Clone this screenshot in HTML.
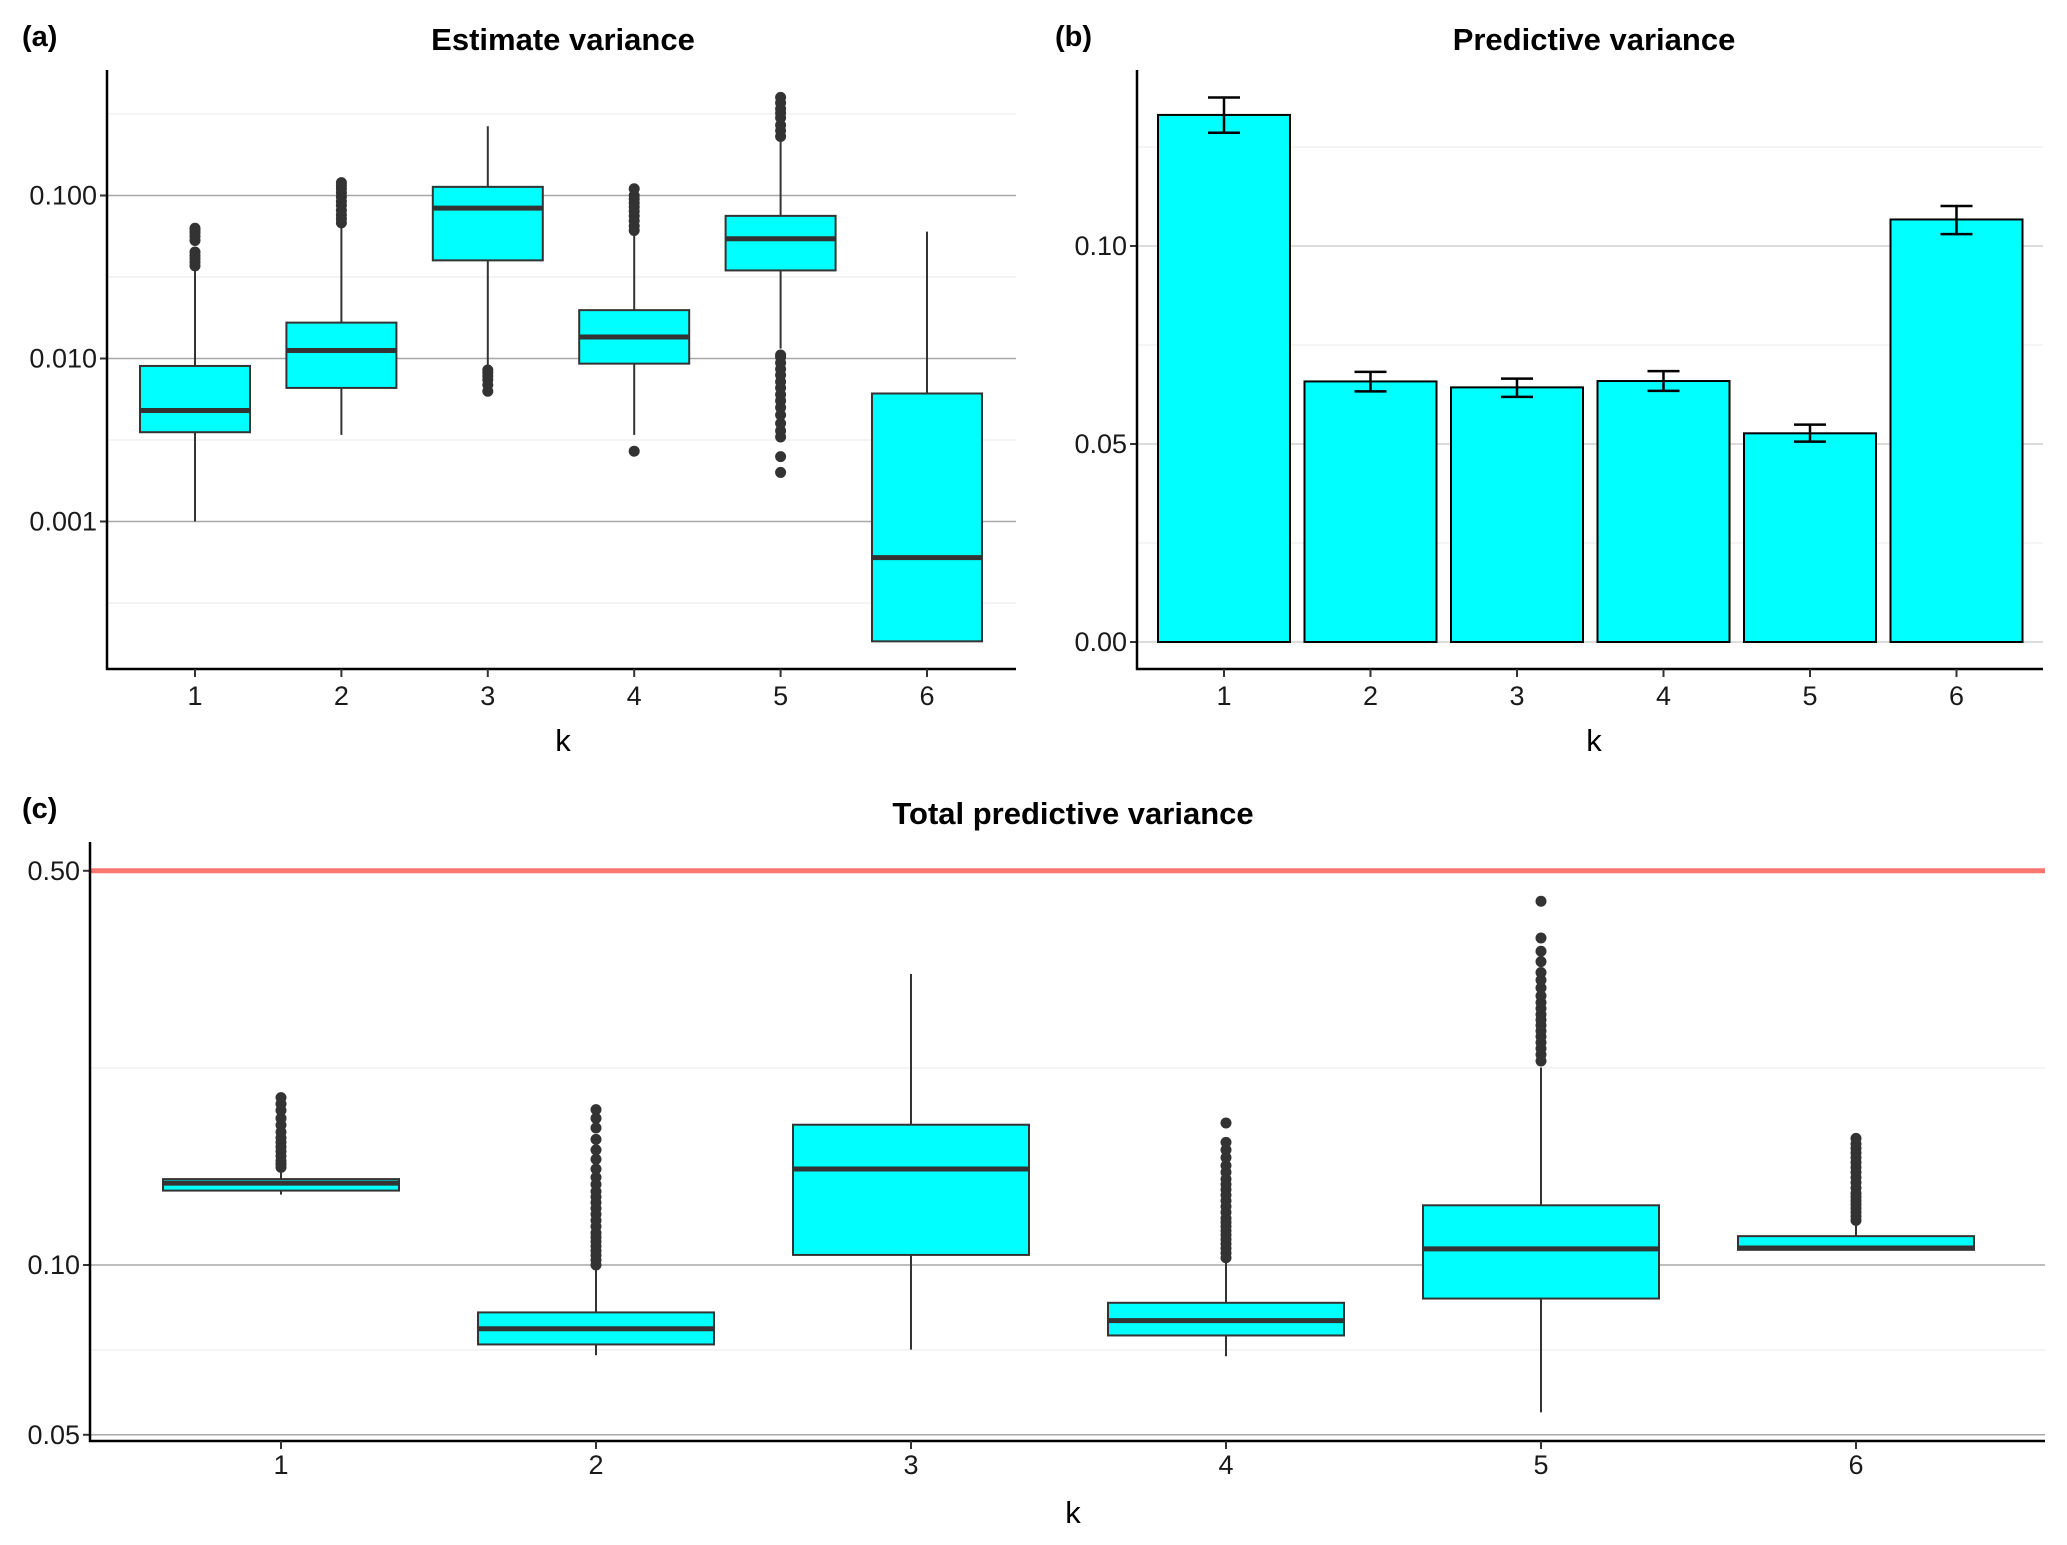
<!DOCTYPE html>
<html><head><meta charset="utf-8"><style>
html,body{margin:0;padding:0;background:#fff;}
svg{display:block;font-family:"Liberation Sans Narrow","Liberation Sans",Arial,sans-serif;}
</style></head><body>
<svg id="chart" width="2067" height="1545" viewBox="0 0 2067 1545" xmlns="http://www.w3.org/2000/svg"></svg>
<script>
// ---------- data ----------
const categories = ["1","2","3","4","5","6"];
// Panel (a) Estimate variance boxplots
const aLow    = [0.001, 0.0034, 0.0087, 0.0034, 0.0115, 0.000184];
const aQ1     = [0.00353, 0.0066, 0.040, 0.0093, 0.0347, 0.000184];
const aMedian = [0.0048, 0.0112, 0.0836, 0.01355, 0.0543, 0.0006];
const aQ3     = [0.009, 0.0166, 0.113, 0.0198, 0.075, 0.0061];
const aHigh   = [0.035, 0.066, 0.266, 0.0575, 0.22, 0.06];
const aOutliers = [
  [0.037,0.039,0.041,0.043,0.045,0.053,0.056,0.059,0.061,0.063],
  [0.068,0.072,0.076,0.081,0.087,0.092,0.098,0.104,0.11,0.115,0.12],
  [0.0063,0.0069,0.0074,0.0078,0.0082,0.0085],
  [0.0027,0.061,0.065,0.07,0.075,0.08,0.085,0.09,0.095,0.1,0.11],
  [0.002,0.0025,0.0033,0.0036,0.004,0.0045,0.005,0.0055,0.006,0.0066,0.0072,0.0079,0.0086,0.0094,0.0102,0.0105,0.23,0.25,0.27,0.3,0.32,0.34,0.37,0.4],
  []
];
const aTicks = [0.1, 0.01, 0.001];
const aTickLabels = ["0.100","0.010","0.001"];
const aMinor = [0.316, 0.0316, 0.00316, 0.000316];
// Panel (b) Predictive variance bars
const bValues = [0.1331, 0.0658, 0.0643, 0.0659, 0.0527, 0.1067];
const bErrLow = [0.1286, 0.0633, 0.0619, 0.0634, 0.0506, 0.103];
const bErrHigh = [0.1375, 0.0682, 0.0665, 0.0684, 0.0549, 0.1101];
const bTicks = [0, 0.05, 0.1];
const bTickLabels = ["0.00","0.05","0.10"];
const bMinor = [0.025, 0.075, 0.125];
// Panel (c) Total predictive variance boxplots
const cLow    = [0.1333, 0.0692, 0.0708, 0.0689, 0.0548, 0.1064];
const cQ1     = [0.1355, 0.0723, 0.1042, 0.075, 0.0872, 0.1064];
const cMedian = [0.1397, 0.0771, 0.148, 0.0797, 0.1068, 0.1072];
const cQ3     = [0.142, 0.0824, 0.1773, 0.0857, 0.1276, 0.1125];
const cHigh   = [0.1476, 0.098, 0.328, 0.102, 0.224, 0.119];
const cOutliers = [
  [0.149,0.151,0.153,0.156,0.159,0.162,0.165,0.168,0.172,0.177,0.182,0.188,0.193,0.198],
  [0.1,0.102,0.104,0.106,0.108,0.11,0.112,0.114,0.117,0.12,0.123,0.126,0.129,0.132,0.135,0.139,0.143,0.148,0.154,0.16,0.167,0.175,0.182,0.1886],
  [],
  [0.103,0.105,0.107,0.109,0.111,0.113,0.115,0.117,0.119,0.121,0.124,0.127,0.13,0.133,0.136,0.139,0.142,0.146,0.15,0.155,0.16,0.165,0.1786],
  [0.23,0.236,0.242,0.248,0.254,0.26,0.266,0.272,0.278,0.285,0.292,0.3,0.31,0.32,0.33,0.345,0.36,0.38,0.4416],
  [0.12,0.122,0.124,0.126,0.128,0.13,0.132,0.134,0.137,0.14,0.143,0.146,0.149,0.152,0.155,0.158,0.161,0.164,0.1677]
];
const cTicks = [0.5, 0.1, 0.05];
const cTickLabels = ["0.50","0.10","0.05"];
const cMinor = [0.2236, 0.0707];
const cRefLine = [0.5];

// ---------- helpers ----------
const svg = document.getElementById('chart');
const NS = 'http://www.w3.org/2000/svg';
function mk(tag, attrs, parent, txt){
  const e = document.createElementNS(NS, tag);
  for (const k in attrs) e.setAttribute(k, attrs[k]);
  if (txt !== undefined) e.textContent = txt;
  (parent || svg).appendChild(e);
  return e;
}
function logScale(v0, y0, pxPerDecade){ return v => y0 - pxPerDecade * Math.log10(v / v0); }

function panelFrame(g, L, R, T, B, xPos, xlabY){
  const ya = mk('line',{x1:L,y1:T,x2:L,y2:B+1,stroke:'#000','stroke-width':2.5},g);
   
  const xa = mk('line',{x1:L-1,y1:B,x2:R,y2:B,stroke:'#000','stroke-width':2.5},g);
   
  categories.forEach((c,i)=>{
    const x = xPos(i);
    const t = mk('line',{x1:x,y1:B,x2:x,y2:B+8,stroke:'#333','stroke-width':2},g);
     
    const tl = mk('text',{x:x,y:xlabY,'text-anchor':'middle','font-size':27,fill:'#1a1a1a'},g,c);
     
  });
}

function boxPanel(name, L, R, T, B, xPos, y, halfW, low, q1, med, q3, high, outs, ticks, tickLabels, minor, gridColor){
  const g = mk('g',{});  
  minor.forEach(v=>{
    const l = mk('line',{x1:L,y1:y(v),x2:R,y2:y(v),stroke:'#f0f0f0','stroke-width':1.5},g);
     
  });
  ticks.forEach((v,i)=>{
    const l = mk('line',{x1:L,y1:y(v),x2:R,y2:y(v),stroke:gridColor,'stroke-width':1.5},g);
     
    const t = mk('line',{x1:L-7,y1:y(v),x2:L,y2:y(v),stroke:'#333','stroke-width':2},g);
     
    const tl = mk('text',{x:L-10,y:y(v)+9,'text-anchor':'end','font-size':27,fill:'#1a1a1a'},g,tickLabels[i]);
     
  });
  categories.forEach((c,i)=>{
    const x = xPos(i);
    const w = mk('line',{x1:x,y1:y(high[i]),x2:x,y2:y(low[i]),stroke:'#333','stroke-width':2},g);
     
    const b = mk('rect',{x:x-halfW,y:y(q3[i]),width:2*halfW,height:y(q1[i])-y(q3[i]),fill:'#00FFFF',stroke:'#333','stroke-width':2},g);
     
    const m = mk('line',{x1:x-halfW,y1:y(med[i]),x2:x+halfW,y2:y(med[i]),stroke:'#333','stroke-width':5},g);
     
    outs[i].forEach(v=>{
      const p = mk('circle',{cx:x,cy:y(v),r:5.5,fill:'#333'},g);
       
    });
  });
  return g;
}

function label(txt, x, y, size, bold, anchor, name){
  const t = mk('text',{x:x,y:y,'font-size':size,'font-weight':bold?'bold':'normal','text-anchor':anchor,fill:'#000'},svg,txt);
   
}

// ---------- panel (a) ----------
{
  const L=107,R=1016,T=70,B=669;
  const xPos = i => 195 + i*146.4;
  const y = logScale(0.1, 195.5, 163);
  const g = boxPanel('panel-a-estimate-variance',L,R,T,B,xPos,y,55,aLow,aQ1,aMedian,aQ3,aHigh,aOutliers,aTicks,aTickLabels,aMinor,'#a8a8a8');
  panelFrame(g,L,R,T,B,xPos,705);
  label('(a)',22,46,29,true,'start','panel-a-label');
  label('Estimate variance',563,50,31,true,'middle','panel-a-title');
  label('k',563,751,31,false,'middle','panel-a-x-axis-title');
}

// ---------- panel (b) ----------
{
  const L=1137,R=2043,T=70,B=669;
  const xPos = i => 1224 + i*146.5;
  const y = v => 642 - v*3960;
  const g = mk('g',{});  
  bMinor.forEach(v=>{
    const l = mk('line',{x1:L,y1:y(v),x2:R,y2:y(v),stroke:'#f0f0f0','stroke-width':1.5},g);
     
  });
  bTicks.forEach((v,i)=>{
    const l = mk('line',{x1:L,y1:y(v),x2:R,y2:y(v),stroke:'#d0d0d0','stroke-width':1.5},g);
     
    const t = mk('line',{x1:L-7,y1:y(v),x2:L,y2:y(v),stroke:'#333','stroke-width':2},g);
     
    const tl = mk('text',{x:L-10,y:y(v)+9,'text-anchor':'end','font-size':27,fill:'#1a1a1a'},g,bTickLabels[i]);
     
  });
  categories.forEach((c,i)=>{
    const x = xPos(i), hw = 66;
    const r = mk('rect',{x:x-hw,y:y(bValues[i]),width:2*hw,height:y(0)-y(bValues[i]),fill:'#00FFFF',stroke:'#000','stroke-width':2},g);
     
    const e = mk('path',{d:`M${x-16},${y(bErrHigh[i])}H${x+16}M${x},${y(bErrHigh[i])}V${y(bErrLow[i])}M${x-16},${y(bErrLow[i])}H${x+16}`,stroke:'#000','stroke-width':2.5,fill:'none'},g);
     
  });
  panelFrame(g,L,R,T,B,xPos,705);
  label('(b)',1055,46,29,true,'start','panel-b-label');
  label('Predictive variance',1594,50,31,true,'middle','panel-b-title');
  label('k',1594,751,31,false,'middle','panel-b-x-axis-title');
}

// ---------- panel (c) ----------
{
  const L=90,R=2045,T=842,B=1441;
  const xPos = i => 281 + i*315;
  const y = logScale(0.1, 1265, 564);
  const g = boxPanel('panel-c-total-predictive-variance',L,R,T,B,xPos,y,118,cLow,cQ1,cMedian,cQ3,cHigh,cOutliers,cTicks,cTickLabels,cMinor,'#a8a8a8');
  cRefLine.forEach(v=>{
    const r = mk('line',{x1:L,y1:y(v),x2:R,y2:y(v),stroke:'#F8766D','stroke-width':5},g);
     
  });
  panelFrame(g,L,R,T,B,xPos,1474);
  label('(c)',22,818,29,true,'start','panel-c-label');
  label('Total predictive variance',1073,824,31,true,'middle','panel-c-title');
  label('k',1073,1523,31,false,'middle','panel-c-x-axis-title');
}
</script>
</body></html>
